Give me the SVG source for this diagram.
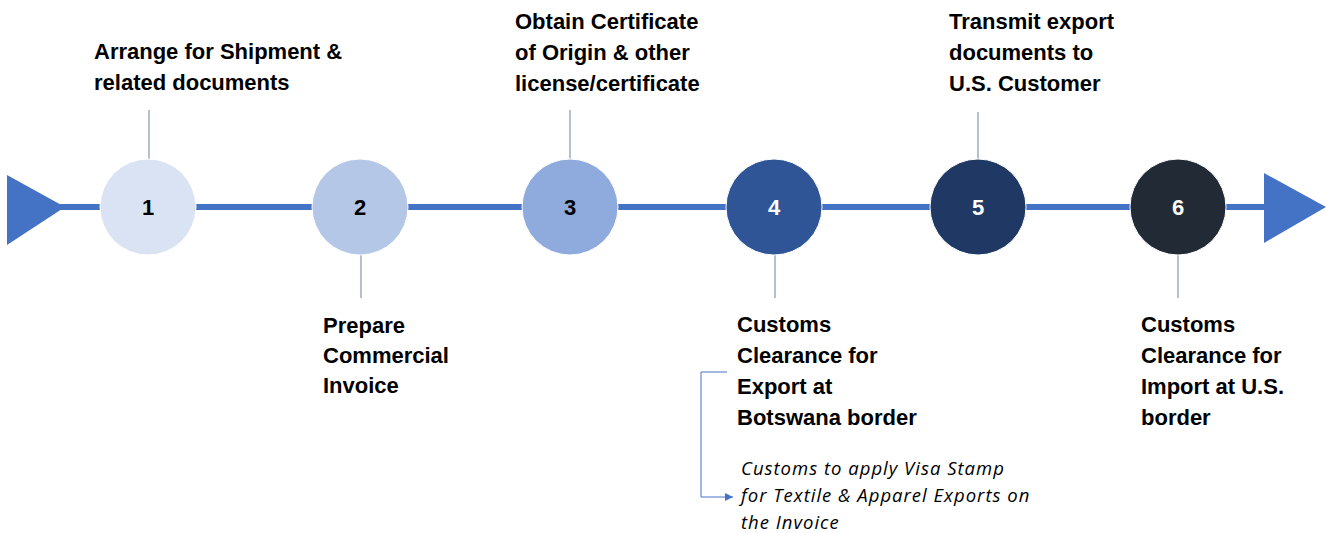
<svg xmlns="http://www.w3.org/2000/svg" width="1326" height="533" viewBox="0 0 1326 533">
<style>
.lbl{font-family:"Liberation Sans",Arial,sans-serif;font-weight:bold;font-size:22px;fill:#000}
.num{font-family:"Liberation Sans",Arial,sans-serif;font-weight:bold;font-size:22px;text-anchor:middle}
.note{font-family:"Open Sans","Liberation Sans",Arial,sans-serif;font-style:italic;font-size:18.5px;letter-spacing:1px;fill:#000}
.tick{stroke:#8497B0;stroke-width:1.2;fill:none}
.circ{stroke:#FFFFFF;stroke-width:1}
</style>
<defs>
<marker id="ah" viewBox="0 0 10 10" refX="10" refY="5" markerWidth="8" markerHeight="8" markerUnits="userSpaceOnUse" orient="auto">
<path d="M0,0 L10,5 L0,10 z" fill="#4472C4"/>
</marker>
</defs>
<g id="connectors">
<line x1="60" y1="207" x2="1270" y2="207" stroke="#4472C4" stroke-width="6"/>
<polygon points="7,175 65,207 7,245" fill="#4472C4"/>
<polygon points="1264,173 1326,207 1264,243" fill="#4472C4"/>
<line class="tick" x1="149" y1="110" x2="149" y2="159"/>
<line class="tick" x1="361" y1="255" x2="361" y2="298"/>
<line class="tick" x1="570" y1="110" x2="570" y2="159"/>
<line class="tick" x1="775" y1="255" x2="775" y2="298"/>
<line class="tick" x1="978" y1="112" x2="978" y2="159"/>
<line class="tick" x1="1178" y1="255" x2="1178" y2="298"/>
<path d="M727,372 H701 V497 H733" fill="none" stroke="#4472C4" stroke-width="1" marker-end="url(#ah)"/>
</g>
<g id="node1">
<circle class="circ" cx="148" cy="207" r="48" fill="#DAE3F3"/>
<text class="num" x="148" y="215" fill="#000">1</text>
<text class="lbl" x="94" y="59">Arrange for Shipment &amp;</text>
<text class="lbl" x="94" y="90">related documents</text>
</g>
<g id="node2">
<circle class="circ" cx="360" cy="207" r="48" fill="#B4C7E7"/>
<text class="num" x="360" y="215" fill="#000">2</text>
<text class="lbl" x="323" y="333">Prepare</text>
<text class="lbl" x="323" y="363">Commercial</text>
<text class="lbl" x="323" y="393">Invoice</text>
</g>
<g id="node3">
<circle class="circ" cx="570" cy="207" r="48" fill="#8FAADC"/>
<text class="num" x="570" y="215" fill="#000">3</text>
<text class="lbl" x="515" y="29">Obtain Certificate</text>
<text class="lbl" x="515" y="60">of Origin &amp; other</text>
<text class="lbl" x="515" y="91">license/certificate</text>
</g>
<g id="node4">
<circle class="circ" cx="774" cy="207" r="48" fill="#2F5597"/>
<text class="num" x="774" y="215" fill="#FFF">4</text>
<text class="lbl" x="737" y="332">Customs</text>
<text class="lbl" x="737" y="363">Clearance for</text>
<text class="lbl" x="737" y="394">Export at</text>
<text class="lbl" x="737" y="425">Botswana border</text>
</g>
<g id="node5">
<circle class="circ" cx="978" cy="207" r="48" fill="#1F3864"/>
<text class="num" x="978" y="215" fill="#FFF">5</text>
<text class="lbl" x="949" y="29">Transmit export</text>
<text class="lbl" x="949" y="60">documents to</text>
<text class="lbl" x="949" y="91">U.S. Customer</text>
</g>
<g id="node6">
<circle class="circ" cx="1178" cy="207" r="48" fill="#222A35"/>
<text class="num" x="1178" y="215" fill="#FFF">6</text>
<text class="lbl" x="1141" y="332">Customs</text>
<text class="lbl" x="1141" y="363">Clearance for</text>
<text class="lbl" x="1141" y="394">Import at U.S.</text>
<text class="lbl" x="1141" y="425">border</text>
</g>
<g id="note">
<text class="note" x="741" y="475">Customs to apply Visa Stamp</text>
<text class="note" x="741" y="502">for Textile &amp; Apparel Exports on</text>
<text class="note" x="741" y="529">the Invoice</text>
</g>
</svg>
